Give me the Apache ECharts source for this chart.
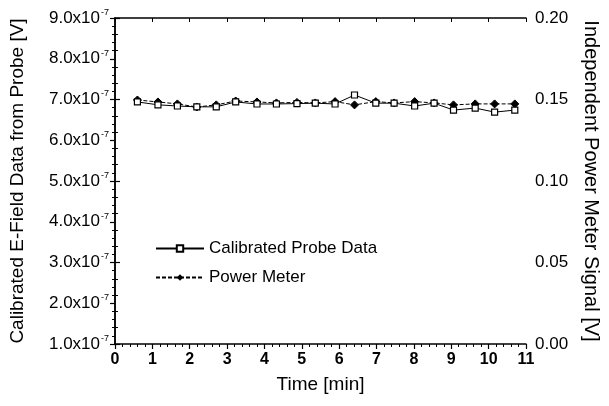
<!DOCTYPE html>
<html>
<head>
<meta charset="utf-8">
<script src="https://cdn.jsdelivr.net/npm/echarts@6/dist/echarts.min.js"></script>
<style>html,body{margin:0;padding:0;background:#fff;}#c{width:609px;height:406px;}</style>
</head>
<body>
<div id="c"></div>
<script>
var times = [0.60,1.15,1.67,2.19,2.71,3.23,3.80,4.32,4.87,5.36,5.89,6.41,6.98,7.47,8.02,8.54,9.06,9.64,10.16,10.70];
var probe = [6.94e-7,6.87e-7,6.84e-7,6.82e-7,6.82e-7,6.94e-7,6.89e-7,6.89e-7,6.90e-7,6.91e-7,6.89e-7,7.11e-7,6.91e-7,6.91e-7,6.84e-7,6.91e-7,6.74e-7,6.79e-7,6.69e-7,6.74e-7];
var power = [0.1497,0.1485,0.1473,0.1454,0.1467,0.1491,0.1485,0.1479,0.1482,0.1479,0.1487,0.1467,0.1487,0.1479,0.1487,0.1479,0.1467,0.1473,0.1473,0.1473];
var leftTicks = [1,2,3,4,5,6,7,8,9];
var rightTicks = [0,0.05,0.10,0.15,0.20];
var xTicks = [0,1,2,3,4,5,6,7,8,9,10,11];

var F = 'Liberation Sans, Arial, sans-serif';
var chart = echarts.init(document.getElementById('c'));
var probeData = times.map(function(t,i){return [t, probe[i]];});
var powerData = times.map(function(t,i){return [t, power[i]];});
var axLine = {show:true, lineStyle:{color:'#000', width:1.5}};
chart.setOption({
  animation:false,
  backgroundColor:'#fff',
  grid:{left:113, right:74, top:18, bottom:62},
  legend:{
    orient:'vertical', left:150, top:235, itemGap:12, itemWidth:48, itemHeight:8,
    textStyle:{fontFamily:F, fontSize:17, color:'#000'},
    data:['Calibrated Probe Data','Power Meter']
  },
  xAxis:[{
    type:'value', min:xTicks[0], max:xTicks[xTicks.length-1], interval:1,
    name:'Time [min]', nameLocation:'middle', nameGap:31,
    nameTextStyle:{fontFamily:F, fontSize:19, color:'#000'},
    axisLine:axLine,
    axisTick:{show:true, length:5, inside:false, lineStyle:{color:'#000', width:1.2}},
    minorTick:{show:true, splitNumber:5, length:3, lineStyle:{color:'#000'}},
    splitLine:{show:false},
    axisLabel:{fontFamily:F, fontSize:16, fontWeight:'bold', color:'#000', margin:8}
  },{
    type:'value', position:'top', min:0, max:11, interval:1,
    axisLine:axLine,
    axisTick:{show:true, inside:true, length:4, lineStyle:{color:'#000'}},
    minorTick:{show:false},
    splitLine:{show:false}, axisLabel:{show:false}
  }],
  yAxis:[{
    type:'value', min:1e-7, max:9e-7, interval:1e-7, position:'left',
    name:'Calibrated E-Field Data from Probe [V]', nameLocation:'middle', nameGap:88,
    nameTextStyle:{fontFamily:F, fontSize:19, color:'#000'},
    axisLine:axLine,
    axisTick:{show:true, length:5, lineStyle:{color:'#000', width:1.2}},
    minorTick:{show:true, splitNumber:5, length:3, lineStyle:{color:'#000'}},
    splitLine:{show:false},
    axisLabel:{
      margin:6,
      formatter:function(v){ return '{m|' + (v/1e-7).toFixed(1) + 'x10}{s|-7}'; },
      rich:{
        m:{fontFamily:F, fontSize:17, color:'#000'},
        s:{fontFamily:F, fontSize:9, color:'#000', padding:[0,0,11,1]}
      }
    }
  },{
    type:'value', min:0, max:0.2, interval:0.05, position:'right',
    name:'Independent Power Meter Signal [V]', nameLocation:'middle', nameGap:55, nameRotate:-90,
    nameTextStyle:{fontFamily:F, fontSize:20, color:'#000'},
    axisLine:axLine,
    axisTick:{show:true, length:5, lineStyle:{color:'#000', width:1.2}},
    minorTick:{show:true, splitNumber:5, length:3, lineStyle:{color:'#000'}},
    splitLine:{show:false},
    axisLabel:{fontFamily:F, fontSize:17, color:'#000', margin:9,
      formatter:function(v){ return v.toFixed(2); }}
  }],
  series:[{
    name:'Calibrated Probe Data', type:'line', xAxisIndex:0, yAxisIndex:0,
    data:probeData, symbol:'rect', symbolSize:6,
    itemStyle:{color:'#fff', borderColor:'#000', borderWidth:1.2},
    lineStyle:{color:'#000', width:1}, z:3
  },{
    name:'Power Meter', type:'line', xAxisIndex:0, yAxisIndex:1,
    data:powerData, symbol:'diamond', symbolSize:8,
    itemStyle:{color:'#000', borderColor:'#000'},
    lineStyle:{color:'#000', width:1, type:[4,2]}, z:2
  }]
});
</script>
</body>
</html>
